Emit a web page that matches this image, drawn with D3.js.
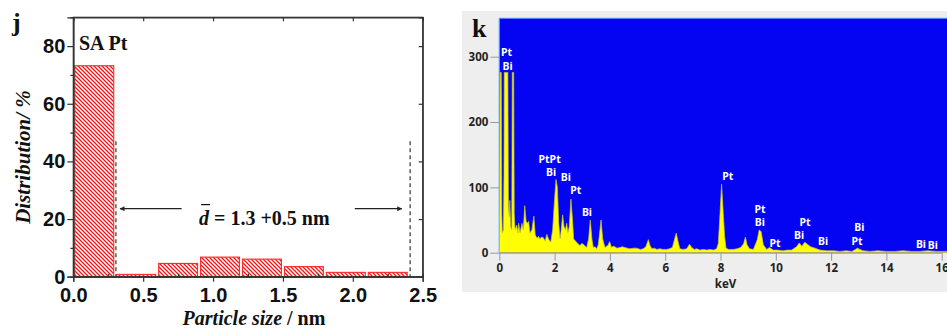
<!DOCTYPE html>
<html>
<head>
<meta charset="utf-8">
<script src="https://cdn.jsdelivr.net/npm/d3@7"></script>
<style>
  html, body { margin: 0; padding: 0; background: #fff; }
  svg { display: block; }
</style>
</head>
<body>
<div id="wrapper"></div>
<script>
// ---- panel j : particle size histogram ----
const sizeBins = [0.0, 0.3, 0.6, 0.9, 1.2, 1.5, 1.8, 2.1]
const binWidth = 0.3
const distribution = [73.2, 0.8, 4.6, 6.8, 6.1, 3.5, 1.5, 1.5]
const sizeTicks = [0.0, 0.5, 1.0, 1.5, 2.0, 2.5]
const distTicks = [0, 20, 40, 60, 80]
const rangeMarks = [0.305, 2.41]
const rangeTop = 47
const meanLabel = ["d", " = 1.3 +0.5 nm"]

// ---- panel k : EDS spectrum (keV, counts) ----
const spectrum = [
  [0.00, 0], [0.01, 80], [0.03, 276], [0.07, 276], [0.09, 60], [0.11, 30], [0.15, 35],
  [0.17, 120], [0.18, 276], [0.31, 276], [0.33, 70], [0.36, 55], [0.38, 80], [0.41, 40],
  [0.45, 35], [0.47, 276], [0.52, 276], [0.54, 60], [0.57, 35], [0.63, 42], [0.67, 30],
  [0.70, 45], [0.75, 30], [0.82, 45], [0.87, 35], [0.92, 72], [0.97, 48], [1.01, 45],
  [1.06, 48], [1.11, 30], [1.18, 35], [1.25, 56], [1.30, 27], [1.37, 22], [1.42, 25],
  [1.47, 21], [1.53, 24], [1.59, 23], [1.66, 18], [1.72, 28], [1.78, 21], [1.86, 16],
  [1.93, 35], [1.99, 76], [2.05, 112], [2.10, 100], [2.15, 45], [2.20, 21], [2.24, 35],
  [2.29, 58], [2.34, 40], [2.39, 35], [2.44, 45], [2.48, 30], [2.53, 40], [2.59, 82],
  [2.64, 55], [2.69, 21], [2.75, 18], [2.80, 16], [2.86, 13], [2.92, 11], [2.98, 14],
  [3.04, 13], [3.10, 10], [3.16, 8], [3.23, 21], [3.29, 50], [3.35, 21], [3.40, 8],
  [3.46, 9], [3.52, 6], [3.58, 12], [3.62, 27], [3.68, 50], [3.74, 21], [3.82, 8],
  [3.88, 10], [3.93, 11], [3.99, 17], [4.06, 8], [4.12, 10], [4.18, 9], [4.26, 7],
  [4.36, 8], [4.45, 9], [4.54, 8], [4.63, 7], [4.72, 6], [4.85, 7], [4.97, 7], [5.10, 5],
  [5.21, 6], [5.30, 9], [5.39, 20], [5.45, 11], [5.52, 6], [5.60, 7], [5.70, 5], [5.81, 6],
  [5.92, 5], [6.05, 5], [6.15, 6], [6.26, 8], [6.34, 21], [6.40, 30], [6.46, 18], [6.53, 6],
  [6.65, 5], [6.78, 6], [6.88, 13], [6.96, 8], [7.05, 5], [7.14, 6], [7.26, 4], [7.38, 5],
  [7.50, 4], [7.62, 5], [7.75, 4], [7.86, 6], [7.92, 14], [7.97, 50], [8.04, 105],
  [8.10, 60], [8.15, 25], [8.20, 7], [8.30, 5], [8.46, 5], [8.60, 6], [8.73, 8], [8.84, 14],
  [8.90, 24], [8.96, 12], [9.05, 6], [9.19, 5], [9.33, 20], [9.40, 35], [9.47, 32],
  [9.55, 12], [9.67, 5], [9.77, 8], [9.91, 4], [10.05, 4], [10.27, 3], [10.42, 4],
  [10.57, 4], [10.75, 9], [10.85, 15], [10.94, 10], [11.05, 16], [11.14, 13], [11.26, 9],
  [11.42, 7], [11.60, 4], [11.84, 3], [12.10, 3], [12.32, 2], [12.55, 3], [12.75, 2],
  [12.88, 5], [12.95, 7], [13.05, 5], [13.15, 3], [13.40, 2], [13.70, 3], [14.00, 2],
  [14.30, 2], [14.60, 3], [14.90, 2], [15.20, 2], [15.50, 3], [15.80, 2], [16.10, 2], [16.30, 2]
]
const keVTicks = [0, 2, 4, 6, 8, 10, 12, 14, 16]
const countTicks = [0, 100, 200, 300]
const peakLabels = [
  ["Pt", 0.26, 307], ["Bi", 0.30, 286], ["PtPt", 1.82, 143], ["Bi", 1.87, 123],
  ["Bi", 2.41, 116], ["Pt", 2.77, 95], ["Bi", 3.17, 62], ["Pt", 8.26, 117],
  ["Pt", 9.43, 67], ["Bi", 9.42, 47], ["Pt", 9.97, 15], ["Bi", 10.84, 27],
  ["Pt", 11.06, 47], ["Bi", 11.71, 17], ["Bi", 13.02, 39], ["Pt", 12.94, 18],
  ["Bi", 15.25, 13], ["Bi", 15.68, 12]
]

const svg = d3.select("#wrapper")
    .append("svg")
    .attr("width", 947)
    .attr("height", 334)

const defs = svg.append("defs")
const hatch = defs.append("pattern")
    .attr("id", "hatch")
    .attr("patternUnits", "userSpaceOnUse")
    .attr("width", 4)
    .attr("height", 4)
hatch.append("rect").attr("width", 4).attr("height", 4).attr("fill", "#fff")
hatch.append("path")
    .attr("d", "M0,0L4,4M-1,3L1,5M3,-1L5,1")
    .attr("stroke", "#ff1010")
    .attr("stroke-width", 1.3)

defs.append("marker")
    .attr("id", "arrow")
    .attr("viewBox", "0 0 10 10")
    .attr("refX", 9).attr("refY", 5)
    .attr("markerWidth", 7).attr("markerHeight", 5)
    .attr("markerUnits", "userSpaceOnUse")
    .attr("orient", "auto")
    .append("path")
    .attr("d", "M0,0L10,5L0,10Z")
    .attr("fill", "#222")

const serif = "'Liberation Serif', 'Times New Roman', serif"
const sans = "'Liberation Sans', Arial, sans-serif"

function drawHistogram() {
    const x = d3.scaleLinear().domain([0, 2.5]).range([73.3, 422.7])
    const y = d3.scaleLinear().domain([0, 90]).range([276.7, 17.3])
    const g = svg.append("g")

    g.selectAll("rect.bar")
        .data(distribution)
        .enter()
        .append("rect")
        .attr("class", "bar")
        .attr("x", (d, i) => x(sizeBins[i]) + 1.5)
        .attr("width", (d, i) => x(sizeBins[i] + binWidth) - x(sizeBins[i]) - 3)
        .attr("y", d => y(d))
        .attr("height", d => y(0) - y(d))
        .attr("fill", "url(#hatch)")
        .attr("stroke", "#ff2a2a")
        .attr("stroke-width", 1.1)

    // axes
    const styleAxis = sel => {
        sel.selectAll("path, line").attr("stroke", "#333").attr("stroke-width", 1.2)
        sel.selectAll("text").attr("fill", "#111")
            .style("font-family", sans).style("font-weight", "bold").style("font-size", "20px")
    }
    g.append("g").attr("transform", `translate(${x(0)},0)`)
        .call(d3.axisLeft(y).tickValues(distTicks).tickSize(6).tickPadding(2).tickFormat(d3.format("d")))
        .call(styleAxis)
    g.append("g").attr("transform", `translate(${x(0)},0)`)
        .call(d3.axisLeft(y).tickValues([10, 30, 50, 70]).tickSize(3).tickFormat(""))
        .call(styleAxis)
    g.append("g").attr("transform", `translate(${x(2.5)},0)`)
        .call(d3.axisLeft(y).tickValues(distTicks).tickSize(4).tickFormat(""))
        .call(styleAxis)
    g.append("g").attr("transform", `translate(0,${y(0)})`)
        .call(d3.axisBottom(x).tickValues(sizeTicks).tickSize(5).tickPadding(6).tickFormat(d3.format(".1f")))
        .call(styleAxis)
    g.append("g").attr("transform", `translate(0,${y(0)})`)
        .call(d3.axisTop(x).tickValues([0.25, 0.75, 1.25, 1.75, 2.25]).tickSize(3).tickFormat(""))
        .call(styleAxis)
    g.append("g").attr("transform", `translate(0,${y(90)})`)
        .call(d3.axisBottom(x).tickValues(sizeTicks).tickSize(4).tickFormat(""))
        .call(styleAxis)
    g.append("rect")
        .attr("x", x(0)).attr("y", y(90))
        .attr("width", x(2.5) - x(0)).attr("height", y(0) - y(90))
        .attr("fill", "none").attr("stroke", "#333").attr("stroke-width", 1.2)

    // dashed range markers and arrows
    g.selectAll("line.range")
        .data(rangeMarks)
        .enter()
        .append("line")
        .attr("x1", d => x(d)).attr("x2", d => x(d))
        .attr("y1", y(rangeTop)).attr("y2", y(0))
        .attr("stroke", "#333").attr("stroke-width", 1.2)
        .attr("stroke-dasharray", "4,3")
    g.append("line")
        .attr("x1", x(0.775)).attr("x2", x(0.334))
        .attr("y1", y(23.6)).attr("y2", y(23.6))
        .attr("stroke", "#222").attr("stroke-width", 1.2)
        .attr("marker-end", "url(#arrow)")
    g.append("line")
        .attr("x1", x(2.014)).attr("x2", x(2.35))
        .attr("y1", y(23.6)).attr("y2", y(23.6))
        .attr("stroke", "#222").attr("stroke-width", 1.2)
        .attr("marker-end", "url(#arrow)")

    const mean = g.append("text")
        .attr("x", x(0.9)).attr("y", y(17.9))
        .style("font-family", serif).style("font-weight", "bold").style("font-size", "20px")
        .attr("fill", "#111")
    mean.append("tspan").style("font-style", "italic").text(meanLabel[0])
    mean.append("tspan").attr("xml:space", "preserve").style("white-space", "pre").text(meanLabel[1])
    g.append("line")
        .attr("x1", x(0.9) + 2).attr("x2", x(0.9) + 11)
        .attr("y1", y(17.9) - 20.5).attr("y2", y(17.9) - 20.5)
        .attr("stroke", "#111").attr("stroke-width", 1.2)

    g.append("text")
        .attr("x", 79).attr("y", 50)
        .style("font-family", serif).style("font-weight", "bold").style("font-size", "20px")
        .attr("fill", "#111")
        .text("SA Pt")
    g.append("text")
        .attr("x", 12).attr("y", 31)
        .style("font-family", serif).style("font-weight", "bold").style("font-size", "26px")
        .attr("fill", "#111")
        .text("j")

    g.append("text")
        .attr("transform", `translate(29.5,157) rotate(-90)`)
        .attr("text-anchor", "middle")
        .style("font-family", serif).style("font-weight", "bold").style("font-style", "italic")
        .style("font-size", "21px")
        .attr("fill", "#111")
        .text("Distribution/ %")

    const xt = g.append("text")
        .attr("x", 254).attr("y", 325)
        .attr("text-anchor", "middle")
        .style("font-family", serif).style("font-weight", "bold").style("font-size", "20px")
        .attr("fill", "#111")
    xt.append("tspan").style("font-style", "italic").text("Particle size")
    xt.append("tspan").text(" / nm")
}

function drawSpectrum() {
    const x = d3.scaleLinear().domain([0, 16]).range([499.3, 941.7])
    const y = d3.scaleLinear().domain([0, 300]).range([252.7, 56.7])
    const g = svg.append("g")

    g.append("rect")
        .attr("x", 462).attr("y", 11)
        .attr("width", 485).attr("height", 281)
        .attr("fill", "#eeeeee")
    g.append("rect")
        .attr("x", x(0)).attr("y", 18.3)
        .attr("width", 947 - x(0)).attr("height", y(0) - 18.3)
        .attr("fill", "#0404f2")
    g.append("line")
        .attr("x1", x(0)).attr("x2", x(0)).attr("y1", 18.3).attr("y2", y(0))
        .attr("stroke", "#3aa8ff").attr("stroke-width", 1.2)
    g.append("line")
        .attr("x1", x(0)).attr("x2", 947).attr("y1", 18.3).attr("y2", 18.3)
        .attr("stroke", "#5a8cff").attr("stroke-width", 1)

    defs.append("clipPath").attr("id", "specClip")
        .append("rect")
        .attr("x", x(0)).attr("y", 18.3)
        .attr("width", 947 - x(0)).attr("height", y(0) - 18.3)

    g.append("path")
        .datum(spectrum)
        .attr("clip-path", "url(#specClip)")
        .attr("fill", "#ffff00")
        .attr("stroke", "#c9c92a")
        .attr("stroke-width", 0.7)
        .attr("d", d3.area()
            .x(d => x(d[0]))
            .y0(y(0))
            .y1(d => y(d[1]))
        )

    g.selectAll("text.peak")
        .data(peakLabels)
        .enter()
        .append("text")
        .attr("class", "peak")
        .attr("x", d => x(d[1]))
        .attr("y", d => y(d[2]))
        .attr("dy", "0.36em")
        .attr("text-anchor", "middle")
        .style("font-family", "'Noto Sans', 'DejaVu Sans', sans-serif")
        .style("font-weight", "bold")
        .style("font-size", "10.5px")
        .attr("fill", "#fff")
        .text(d => d[0])

    const styleAxis = sel => {
        sel.select(".domain").attr("stroke", "#999").attr("stroke-width", 1)
        sel.selectAll(".tick line").attr("stroke", "#999").attr("stroke-width", 1)
        sel.selectAll("text").attr("fill", "#222")
            .style("font-family", "'Noto Sans', 'DejaVu Sans', sans-serif")
            .style("font-weight", "bold").style("font-size", "11.5px")
    }
    g.append("g").attr("transform", `translate(0,${y(0)})`)
        .call(d3.axisBottom(x).tickValues(keVTicks).tickSize(8).tickSizeOuter(0).tickPadding(3))
        .call(styleAxis)
    g.append("g").attr("transform", `translate(${x(0)},0)`)
        .call(d3.axisLeft(y).tickValues(countTicks).tickSize(9).tickSizeOuter(0).tickPadding(2))
        .call(sel => sel.select(".domain").remove())
        .call(styleAxis)

    g.append("text")
        .attr("x", 725.5).attr("y", 288)
        .attr("text-anchor", "middle")
        .style("font-family", "'Noto Sans', 'DejaVu Sans', sans-serif")
        .style("font-weight", "bold").style("font-size", "11.5px")
        .attr("fill", "#222")
        .text("keV")

    g.append("text")
        .attr("x", 472).attr("y", 36.5)
        .style("font-family", serif).style("font-weight", "bold").style("font-size", "26px")
        .attr("fill", "#111")
        .text("k")
}

drawHistogram()
drawSpectrum()
</script>
</body>
</html>
